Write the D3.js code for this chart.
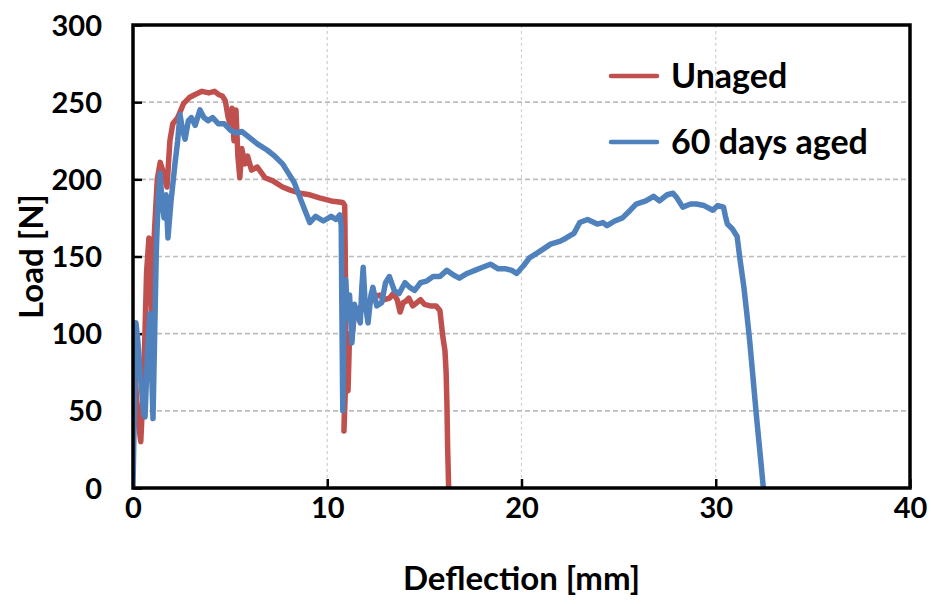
<!DOCTYPE html>
<html>
<head>
<meta charset="utf-8">
<script src="https://cdn.jsdelivr.net/npm/d3@7"></script>
<style>
  html, body { margin: 0; padding: 0; background: #fff; }
  svg { display: block; }
  text { font-family: Lato, "Open Sans", sans-serif; font-weight: 700; fill: #000; }
</style>
</head>
<body>
<svg id="chart" width="931" height="604"></svg>
<script>
// ---- data ----
const seriesNames = ["Unaged", "60 days aged"];
const seriesColors = ["#C0504D", "#4F81BD"];

const xTicks = [0, 10, 20, 30, 40];
const yTicks = [0, 50, 100, 150, 200, 250, 300];

const unagedX = [0,0.1,0.25,0.4,0.55,0.7,0.82,0.95,1.1,1.25,1.4,1.55,1.75,1.9,2.05,2.3,2.6,2.9,3.2,3.55,3.9,4.2,4.4,4.6,4.75,4.9,5.0,5.1,5.2,5.3,5.4,5.5,5.6,5.76,5.9,6.1,6.4,6.8,7.2,7.7,8.1,8.6,9.1,9.6,10.2,10.8,10.9,10.95,10.9,10.86,10.95,11.07,11.15,11.27,11.4,11.5,11.8,12.0,12.2,12.45,12.7,12.95,13.2,13.4,13.6,13.75,13.9,14.05,14.2,14.4,14.6,14.8,15.0,15.3,15.6,15.8,15.95,16.06,16.12,16.16,16.2,16.25];
const unagedY = [87,75,45,30,70,140,162,115,165,200,211,205,195,225,236,240,249,253,255,257,256,257,255,254,251,240,236,246,225,245,215,201,220,210,215,206,208,201,199,195,193,191,190,188,186,185,183,120,60,37,70,63,100,98,112,115,118,121,120,124,125,122,123,126,122,114,120,121,123,118,120,122,119,118,118,115,98,89,75,55,25,0];

const agedX = [0,0.08,0.15,0.25,0.4,0.55,0.62,0.75,0.87,0.95,1.03,1.1,1.2,1.3,1.39,1.5,1.6,1.7,1.8,1.95,2.16,2.3,2.42,2.55,2.68,2.85,3.0,3.2,3.45,3.65,3.87,4.1,4.4,4.7,5.0,5.3,5.6,6.0,6.4,6.9,7.3,7.7,8.0,8.3,8.6,8.85,9.1,9.4,9.8,10.2,10.45,10.65,10.72,10.75,10.8,10.85,10.95,11.05,11.15,11.27,11.4,11.55,11.7,11.78,11.85,11.95,12.1,12.25,12.35,12.55,12.8,13.0,13.2,13.45,13.7,14.0,14.25,14.5,14.8,15.1,15.45,15.8,16.15,16.5,16.8,17.2,17.6,18.0,18.4,18.8,19.2,19.5,19.75,20.1,20.4,20.9,21.5,22.0,22.3,22.7,23.0,23.4,23.9,24.2,24.4,24.8,25.2,25.6,25.9,26.4,26.8,27.1,27.5,27.8,28.0,28.3,28.7,29.0,29.4,29.85,30.1,30.4,30.5,30.6,30.85,31.1,31.25,31.45,31.6,31.75,31.85,32.1,32.3,32.45];
const agedY = [0,60,107,95,70,48,46,90,113,80,45,90,154,188,204,185,175,190,162,185,210,225,242,232,226,238,240,235,245,240,238,240,236,236,232,230,231,227,223,219,215,210,204,198,188,180,172,176,173,176,174,177,170,120,50,100,135,110,125,94,119,112,107,130,143,120,107,125,130,118,120,133,137,128,126,133,130,128,133,134,137,137,141,138,136,139,141,143,145,142,142,141,139,144,149,153,158,160,162,165,172,174,171,172,170,173,175,180,184,186,189,186,190,191,188,182,184,184,183,180,183,182,176,171,168,163,148,130,113,95,81,46,20,0];

// ---- layout ----
const pL = 133, pR = 910, pT = 25, pB = 488;
const svg = d3.select("#chart");

const x = d3.scaleLinear().domain([0, 40]).range([pL, pR]);
const y = d3.scaleLinear().domain([0, 300]).range([pB, pT]);

// grid
const grid = svg.append("g");
grid.selectAll("line.h").data(yTicks.filter(v => v > 0 && v < 300)).enter()
  .append("line")
  .attr("x1", pL).attr("x2", pR)
  .attr("y1", d => y(d)).attr("y2", d => y(d))
  .attr("stroke", "#bdbdbd").attr("stroke-width", 1.6)
  .attr("stroke-dasharray", "5,3");
grid.selectAll("line.v").data(xTicks.filter(v => v > 0 && v < 40)).enter()
  .append("line")
  .attr("y1", pT).attr("y2", pB)
  .attr("x1", d => x(d)).attr("x2", d => x(d))
  .attr("stroke", "#cfcfcf").attr("stroke-width", 1.2)
  .attr("stroke-dasharray", "3,3");

// axes
const xAxis = d3.axisBottom(x).tickValues(xTicks).tickSize(-9).tickPadding(9);
const yAxis = d3.axisLeft(y).tickValues(yTicks).tickSize(-9).tickPadding(31);

const gx = svg.append("g").attr("transform", `translate(0,${pB})`).call(xAxis);
const gy = svg.append("g").attr("transform", `translate(${pL},0)`).call(yAxis);
[gx, gy].forEach(g => {
  g.select(".domain").remove();
  g.selectAll(".tick line").attr("stroke", "#000").attr("stroke-width", 2.5);
  g.selectAll(".tick text").style("font-family", "Lato, 'Open Sans', sans-serif")
    .style("font-weight", 700).style("font-size", "29px").attr("fill", "#000");
});
gy.selectAll(".tick text").attr("dy", "0.35em");
gx.selectAll(".tick text").attr("dy", "0.71em");

// series
const line = d3.line().x(d => x(d[0])).y(d => y(d[1]));
const unaged = unagedX.map((v, i) => [v, unagedY[i]]);
const aged = agedX.map((v, i) => [v, agedY[i]]);
svg.append("clipPath").attr("id", "clip").append("rect")
  .attr("x", pL).attr("y", pT).attr("width", pR - pL).attr("height", pB - pT);
const plotG = svg.append("g").attr("clip-path", "url(#clip)");
[unaged, aged].forEach((data, i) => {
  plotG.append("path").datum(data)
    .attr("d", line)
    .attr("fill", "none")
    .attr("stroke", seriesColors[i])
    .attr("stroke-width", 5.5)
    .attr("stroke-linejoin", "round")
    .attr("stroke-linecap", "round");
});

// frame
svg.append("rect")
  .attr("x", pL).attr("y", pT).attr("width", pR - pL).attr("height", pB - pT)
  .attr("fill", "none").attr("stroke", "#000").attr("stroke-width", 3.5);

// axis titles
svg.append("text")
  .attr("x", (pL + pR) / 2).attr("y", 590)
  .attr("text-anchor", "middle").style("font-size", "33px")
  .text("Deflection [mm]");
svg.append("text")
  .attr("transform", `translate(43,${(pT + pB) / 2}) rotate(-90)`)
  .attr("text-anchor", "middle").style("font-size", "33px")
  .text("Load [N]");

// legend
const legend = svg.append("g");
seriesNames.forEach((name, i) => {
  const ly = 76 + i * 66;
  legend.append("line")
    .attr("x1", 611).attr("x2", 657).attr("y1", ly).attr("y2", ly)
    .attr("stroke", seriesColors[i]).attr("stroke-width", 4.5)
    .attr("stroke-linecap", "round");
  legend.append("text")
    .attr("x", 671).attr("y", ly).attr("dy", "0.35em")
    .style("font-size", "34px")
    .text(name);
});
</script>
</body>
</html>
